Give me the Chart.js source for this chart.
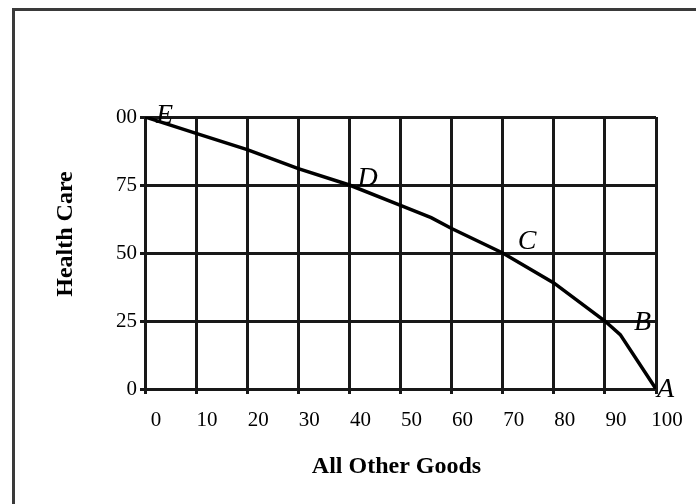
<!DOCTYPE html>
<html>
<head>
<meta charset="utf-8">
<script src="https://cdn.jsdelivr.net/npm/chart.js@4/dist/chart.umd.min.js"></script>
<style>
html,body{margin:0;padding:0;background:#fff;}
#wrap{width:696px;height:504px;position:relative;}
</style>
</head>
<body>
<div id="wrap"><canvas id="c" width="696" height="504"></canvas></div>
<script>
// ---- data ----
const allOtherGoods = [0, 10, 20, 30, 40, 50, 56, 60, 70, 80, 90, 93, 100];
const healthCare    = [100, 94, 88, 81, 75, 67.5, 63, 59, 50, 39, 25, 20, 0];
const pointNames    = ['E', 'D', 'C', 'B', 'A'];
const pointX        = [0, 40, 70, 90, 100];
const pointY        = [100, 75, 50, 25, 0];
const xTicks        = [0, 10, 20, 30, 40, 50, 60, 70, 80, 90, 100];
const xTickLabels   = ['0', '10', '20', '30', '40', '50', '60', '70', '80', '90', '100'];
const yTicks        = [0, 25, 50, 75, 100];
const yTickLabels   = ['0', '25', '50', '75', '00'];
const xTitle = 'All Other Goods';
const yTitle = 'Health Care';

// ---- style (label nudges in px) ----
const labelNudge = {E:[11,6], D:[8,1], C:[15,-4], B:[29,9], A:[1,8]};
const SERIF = '"Liberation Serif", "Times New Roman", serif';
const INK = '#181818';

const overlay = {
  id: 'overlay',
  beforeDraw(chart) {
    const ctx = chart.ctx;
    ctx.save();
    ctx.fillStyle = '#ffffff';
    ctx.fillRect(0, 0, chart.width, chart.height);
    ctx.strokeStyle = '#3a3a3a';
    ctx.lineWidth = 3;
    ctx.beginPath();
    ctx.moveTo(13.5, 504);
    ctx.lineTo(13.5, 9.5);
    ctx.lineTo(696, 9.5);
    ctx.stroke();
    ctx.restore();
  },
  afterDraw(chart) {
    const ctx = chart.ctx;
    const xs = chart.scales.x, ys = chart.scales.y;
    ctx.save();
    ctx.fillStyle = '#000';
    ctx.font = 'italic 28px ' + SERIF;
    ctx.textAlign = 'left';
    ctx.textBaseline = 'alphabetic';
    pointNames.forEach((n, i) => {
      const px = xs.getPixelForValue(pointX[i]);
      const py = ys.getPixelForValue(pointY[i]);
      const nd = labelNudge[n];
      ctx.fillText(n, px + nd[0], py + nd[1]);
    });
    ctx.font = 'bold 24px ' + SERIF;
    ctx.textAlign = 'center';
    ctx.textBaseline = 'middle';
    ctx.fillText(xTitle, (xs.left + xs.right) / 2 - 4, 467);
    ctx.translate(66, 234);
    ctx.rotate(-Math.PI / 2);
    ctx.font = 'bold 24px ' + SERIF;
    ctx.fillText(yTitle, 0, 0);
    ctx.restore();
  }
};

new Chart(document.getElementById('c'), {
  type: 'line',
  data: {
    datasets: [{
      data: allOtherGoods.map((x, i) => ({x: x, y: healthCare[i]})),
      borderColor: '#000',
      borderWidth: 3.5,
      pointRadius: 0,
      tension: 0,
      fill: false
    }]
  },
  options: {
    responsive: false,
    animation: false,
    devicePixelRatio: 1,
    layout: {padding: {left: 0, right: 40, top: 117, bottom: 55}},
    plugins: {legend: {display: false}, tooltip: {enabled: false}},
    scales: {
      x: {
        type: 'linear', min: 0, max: 100,
        afterBuildTicks: (s) => { s.ticks = xTicks.map(v => ({value: v})); },
        afterFit: (s) => { s.height = 60; },
        border: {display: false},
        grid: {color: INK, lineWidth: 3, tickLength: 5, tickColor: INK},
        ticks: {
          color: '#000', font: {family: SERIF, size: 21}, padding: 14, labelOffset: 11,
          maxRotation: 0, autoSkip: false,
          callback: (v) => xTickLabels[xTicks.indexOf(v)]
        }
      },
      y: {
        type: 'linear', min: 0, max: 100,
        afterBuildTicks: (s) => { s.ticks = yTicks.map(v => ({value: v})); },
        afterFit: (s) => { s.width = 145; },
        border: {display: false},
        grid: {color: INK, lineWidth: 3, tickLength: 5, tickColor: INK},
        ticks: {
          color: '#000', font: {family: SERIF, size: 21}, padding: 3,
          callback: (v) => yTickLabels[yTicks.indexOf(v)]
        }
      }
    }
  },
  plugins: [overlay]
});
</script>
</body>
</html>
